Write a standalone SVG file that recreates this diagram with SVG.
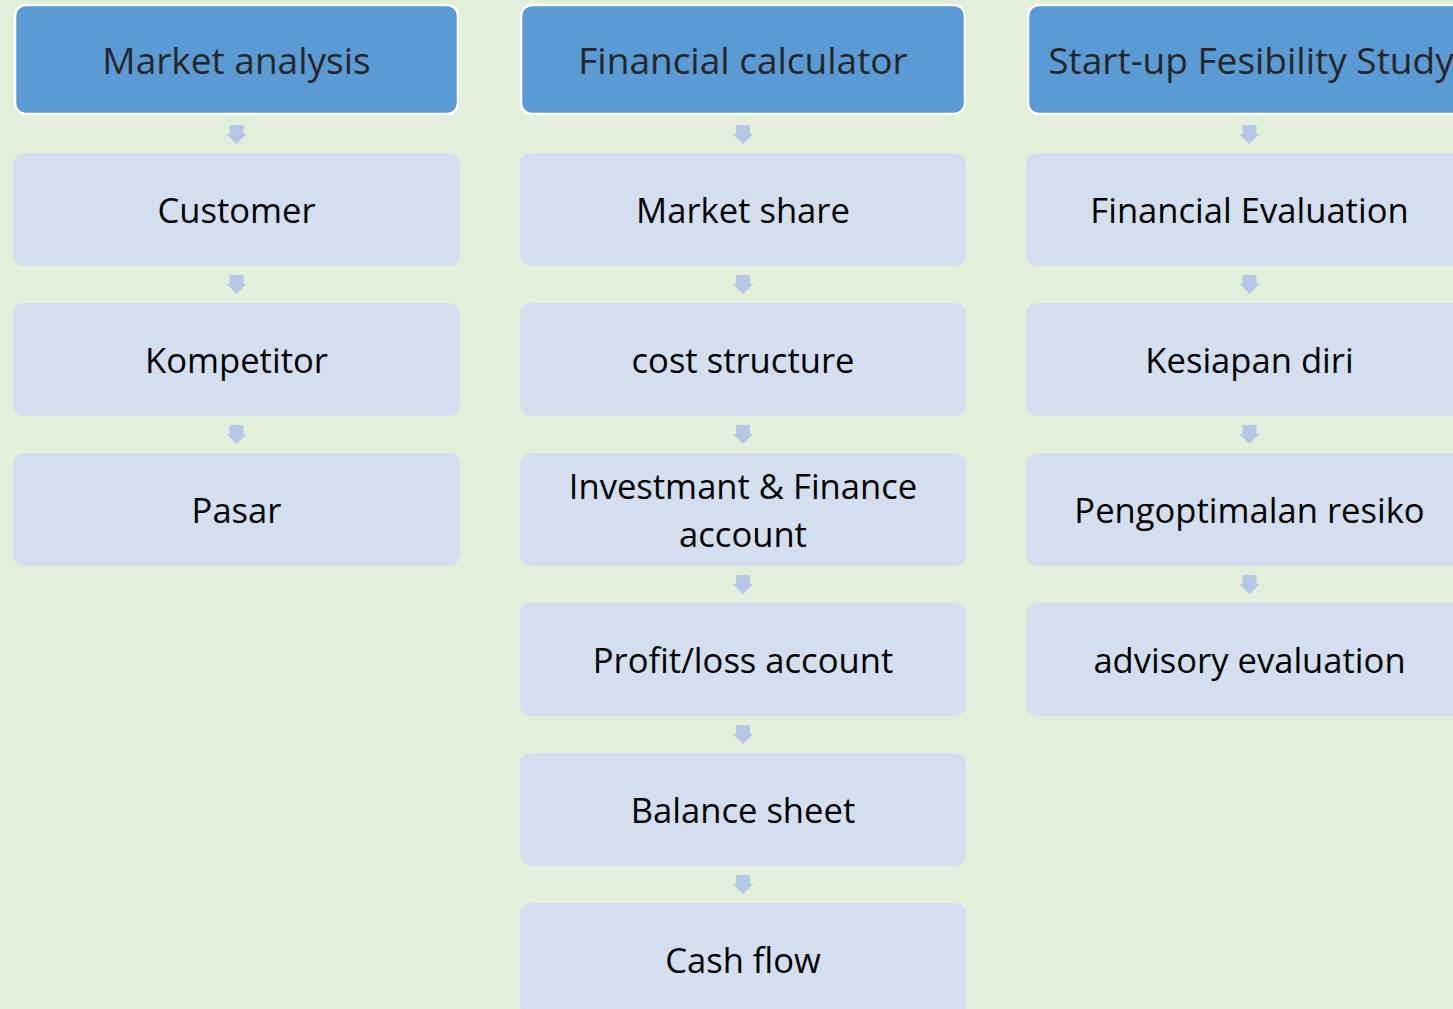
<svg xmlns="http://www.w3.org/2000/svg" width="1453" height="1009" viewBox="0 0 1453 1009">
<defs>
<style>
.bg{fill:#E2EFDA}
.hdr{fill:#5B9BD5;stroke:#FFFFFF;stroke-width:2.5}
.box{fill:#D3DFEE}
.arr{fill:#B4C7E7}
text{font-family:"Open Sans","Noto Sans",sans-serif;text-anchor:middle}
.ht{font-size:37px;fill:#262626}
.bt{font-size:34.6px;fill:#000000}
</style>
<path id="a" d="M-7,0 H7 V9 H10 L0,19 L-10,9 H-7 Z"/>
</defs>
<rect class="bg" x="0" y="0" width="1453" height="1009"/>
<g id="connectors">
<use href="#a" class="arr" x="236.5" y="125"/>
<use href="#a" class="arr" x="236.5" y="275"/>
<use href="#a" class="arr" x="236.5" y="425"/>
<use href="#a" class="arr" x="743" y="125"/>
<use href="#a" class="arr" x="743" y="275"/>
<use href="#a" class="arr" x="743" y="425"/>
<use href="#a" class="arr" x="743" y="575"/>
<use href="#a" class="arr" x="743" y="725"/>
<use href="#a" class="arr" x="743" y="875"/>
<use href="#a" class="arr" x="1249.5" y="125"/>
<use href="#a" class="arr" x="1249.5" y="275"/>
<use href="#a" class="arr" x="1249.5" y="425"/>
<use href="#a" class="arr" x="1249.5" y="575"/>
</g>
<g id="market-analysis"><rect class="hdr" x="15" y="5" width="443" height="109" rx="11"/><text class="ht" x="236.5" y="74">Market analysis</text></g>
<g id="customer"><rect class="box" x="13" y="153" width="447" height="113" rx="11"/><text class="bt" x="236.5" y="223">Customer</text></g>
<g id="kompetitor"><rect class="box" x="13" y="303" width="447" height="113" rx="11"/><text class="bt" x="236.5" y="373">Kompetitor</text></g>
<g id="pasar"><rect class="box" x="13" y="453" width="447" height="113" rx="11"/><text class="bt" x="236.5" y="523">Pasar</text></g>

<g id="financial-calculator"><rect class="hdr" x="521" y="5" width="444" height="109" rx="11"/><text class="ht" x="743" y="74">Financial calculator</text></g>
<g id="market-share"><rect class="box" x="520" y="153" width="446" height="113" rx="11"/><text class="bt" x="743" y="223">Market share</text></g>
<g id="cost-structure"><rect class="box" x="520" y="303" width="446" height="113" rx="11"/><text class="bt" x="743" y="373">cost structure</text></g>
<g id="investmant"><rect class="box" x="520" y="453" width="446" height="113" rx="11"/><text class="bt" x="743" y="499">Investmant &amp; Finance</text><text class="bt" x="743" y="547">account</text></g>
<g id="profit-loss"><rect class="box" x="520" y="603" width="446" height="113" rx="11"/><text class="bt" x="743" y="673">Profit/loss account</text></g>
<g id="balance-sheet"><rect class="box" x="520" y="753" width="446" height="113" rx="11"/><text class="bt" x="743" y="823">Balance sheet</text></g>
<g id="cash-flow"><rect class="box" x="520" y="903" width="446" height="113" rx="11"/><text class="bt" x="743" y="973">Cash flow</text></g>

<g id="startup-study"><rect class="hdr" x="1028" y="5" width="446" height="109" rx="11"/><text class="ht" x="1251" y="74">Start-up Fesibility Study</text></g>
<g id="financial-evaluation"><rect class="box" x="1026" y="153" width="448" height="113" rx="11"/><text class="bt" x="1249.5" y="223">Financial Evaluation</text></g>
<g id="kesiapan-diri"><rect class="box" x="1026" y="303" width="448" height="113" rx="11"/><text class="bt" x="1249.5" y="373">Kesiapan diri</text></g>
<g id="pengoptimalan"><rect class="box" x="1026" y="453" width="448" height="113" rx="11"/><text class="bt" x="1249.5" y="523">Pengoptimalan resiko</text></g>
<g id="advisory"><rect class="box" x="1026" y="603" width="448" height="113" rx="11"/><text class="bt" x="1249.5" y="673">advisory evaluation</text></g>
</svg>
